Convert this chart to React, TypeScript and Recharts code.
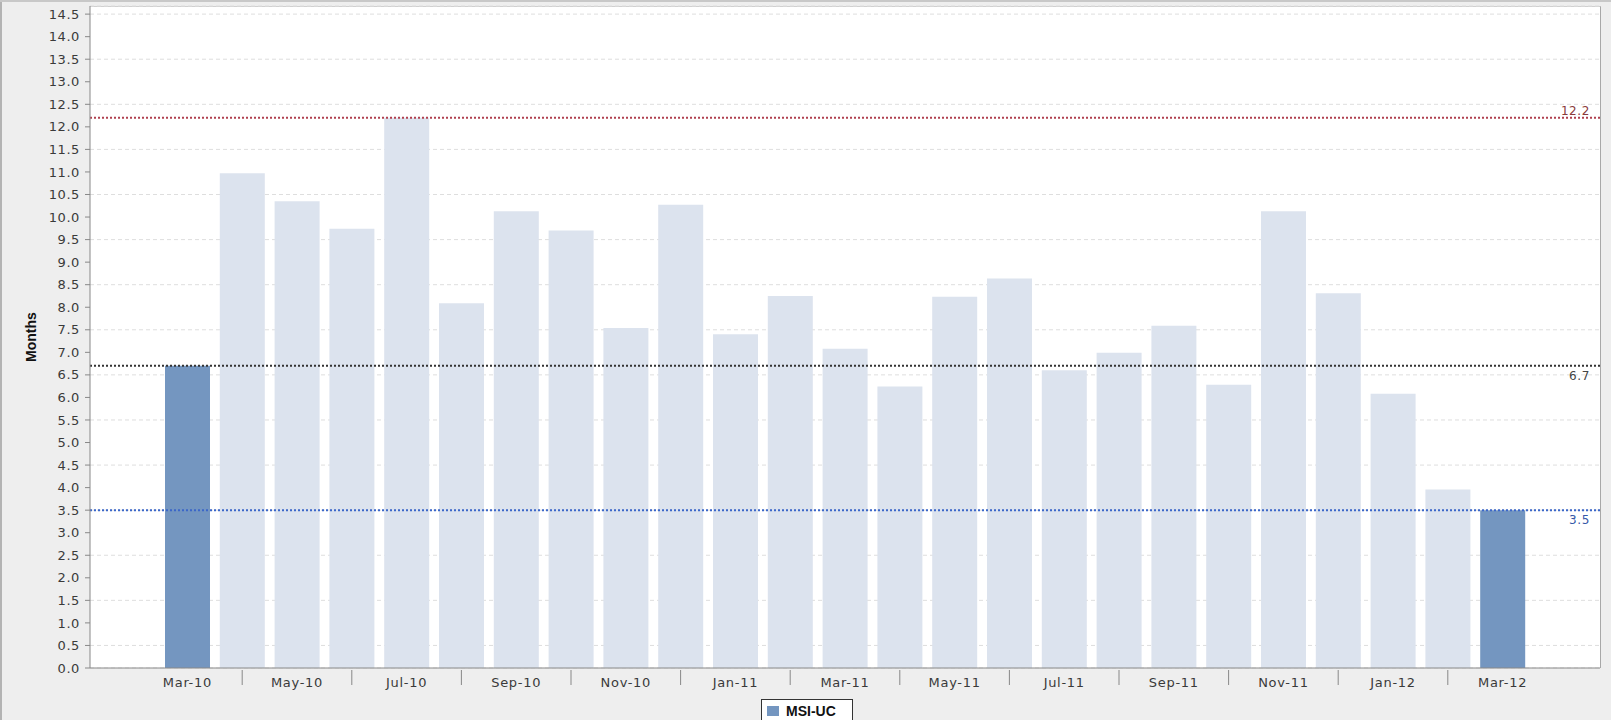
import * as React from "react";
import {
  BarChart,
  Bar,
  Cell,
  XAxis,
  YAxis,
  CartesianGrid,
  ReferenceLine,
} from "recharts";

const months = [
  "Mar-10", "Apr-10", "May-10", "Jun-10", "Jul-10", "Aug-10", "Sep-10",
  "Oct-10", "Nov-10", "Dec-10", "Jan-11", "Feb-11", "Mar-11", "Apr-11",
  "May-11", "Jun-11", "Jul-11", "Aug-11", "Sep-11", "Oct-11", "Nov-11",
  "Dec-11", "Jan-12", "Feb-12", "Mar-12",
];

const msiValues = [
  6.7, 10.97, 10.35, 9.74, 12.2, 8.09, 10.13, 9.7, 7.54, 10.27, 7.4, 8.25,
  7.08, 6.24, 8.23, 8.64, 6.6, 6.99, 7.59, 6.28, 10.13, 8.31, 6.08, 3.96, 3.5,
];

const highlighted = ["Mar-10", "Mar-12"];

const yTicks = [
  0, 0.5, 1, 1.5, 2, 2.5, 3, 3.5, 4, 4.5, 5, 5.5, 6, 6.5, 7, 7.5, 8, 8.5,
  9, 9.5, 10, 10.5, 11, 11.5, 12, 12.5, 13, 13.5, 14, 14.5,
];

const maxLine = 12.2;
const currentLine = 6.7;
const minLine = 3.5;

const data = months.map((m, i) => ({ month: m, value: msiValues[i] }));

const DARK = "#7496c0";
const LIGHT = "#dce3ee";
const FONT = "'DejaVu Sans', Verdana, sans-serif";

function MonthTick(props: any) {
  const { x, y, payload, index } = props;
  if (index % 2 === 1) {
    return <line x1={x} x2={x} y1={y - 6} y2={y + 9} stroke="#888" strokeWidth={1} />;
  }
  return (
    <text
      x={x}
      y={y + 11}
      textAnchor="middle"
      fontSize={13}
      fontFamily={FONT}
      letterSpacing={0.7}
      fill="#3a3a3a"
    >
      {payload.value}
    </text>
  );
}

function MonthsLabel(props: any) {
  const { viewBox } = props;
  const cy = viewBox.y + viewBox.height / 2;
  return (
    <text
      x={36}
      y={cy}
      transform={`rotate(-90 36 ${cy})`}
      textAnchor="middle"
      fontSize={14}
      fontWeight="bold"
      fontFamily="'Liberation Sans', Arial, sans-serif"
      fill="#111"
    >
      Months
    </text>
  );
}

function lineLabel(text: string, color: string, dy: number) {
  return (props: any) => {
    const { viewBox } = props;
    return (
      <text
        x={viewBox.x + viewBox.width - 10}
        y={viewBox.y + dy}
        textAnchor="end"
        fontSize={12}
        fontFamily={FONT}
        letterSpacing={0.6}
        fill={color}
      >
        {text}
      </text>
    );
  };
}

export default function App() {
  return (
    <div style={{ position: "relative", width: 1611, height: 720, background: "#eeeeee", overflow: "hidden" }}>
      <style>{"body{margin:0}"}</style>
      <div style={{ position: "absolute", left: 0, top: 0, width: 2, height: 720, background: "#b3b3b3" }} />
      <div style={{ position: "absolute", left: 0, top: 0, width: 1611, height: 2, background: "#c8c8c8" }} />
      <div
        style={{
          position: "absolute",
          left: 90,
          top: 6,
          width: 1511,
          height: 662,
          background: "#ffffff",
          borderTop: "1px solid #d0d0d0",
          borderRight: "1px solid #a8a8a8",
          boxSizing: "border-box",
        }}
      />
      <div style={{ position: "absolute", left: 0, top: 0 }}>
        <BarChart
          width={1611}
          height={720}
          data={data}
          margin={{ top: 6, right: 11, bottom: 0, left: 0 }}
          barCategoryGap={5}
        >
          <CartesianGrid
            horizontal
            vertical={false}
            stroke="#dedede"
            strokeDasharray="4 3"
          />
          <XAxis
            dataKey="month"
            interval={0}
            height={52}
            padding={{ left: 70, right: 70 }}
            tick={<MonthTick />}
            tickLine={false}
            axisLine={{ stroke: "#888" }}
          />
          <YAxis
            type="number"
            domain={[0, 14.68]}
            ticks={yTicks}
            allowDataOverflow
            width={90}
            tickSize={5}
            tickMargin={5}
            tickFormatter={(v: number) => v.toFixed(1)}
            tick={{ fontSize: 13, fontFamily: FONT, fill: "#3a3a3a", letterSpacing: 0.6 } as any}
            tickLine={{ stroke: "#888" }}
            axisLine={{ stroke: "#888" }}
            label={<MonthsLabel />}
          />
          <Bar dataKey="value" isAnimationActive={false}>
            {data.map((d, i) => (
              <Cell key={`cell-${i}`} fill={highlighted.includes(d.month) ? DARK : LIGHT} />
            ))}
          </Bar>
          <ReferenceLine
            y={maxLine}
            stroke="#b0404f"
            strokeWidth={2}
            strokeDasharray="2 2"
            label={lineLabel("12.2", "#8a3a3a", -3)}
          />
          <ReferenceLine
            y={currentLine}
            stroke="#333333"
            strokeWidth={2}
            strokeDasharray="2 2"
            label={lineLabel("6.7", "#444", 14)}
          />
          <ReferenceLine
            y={minLine}
            stroke="#3a66c8"
            strokeWidth={2}
            strokeDasharray="2 2"
            label={lineLabel("3.5", "#3558a8", 14)}
          />
        </BarChart>
      </div>
      <div
        style={{
          position: "absolute",
          left: 761,
          top: 699,
          width: 92,
          height: 24,
          border: "1px solid #333",
          background: "#ffffff",
          boxSizing: "border-box",
          display: "flex",
          alignItems: "center",
          fontFamily: "'Liberation Sans', Arial, sans-serif",
          fontWeight: "bold",
          fontSize: 14,
          color: "#111",
        }}
      >
        <span style={{ display: "inline-block", width: 12, height: 10, background: DARK, marginLeft: 5, marginRight: 7 }} />
        MSI-UC
      </div>
    </div>
  );
}
